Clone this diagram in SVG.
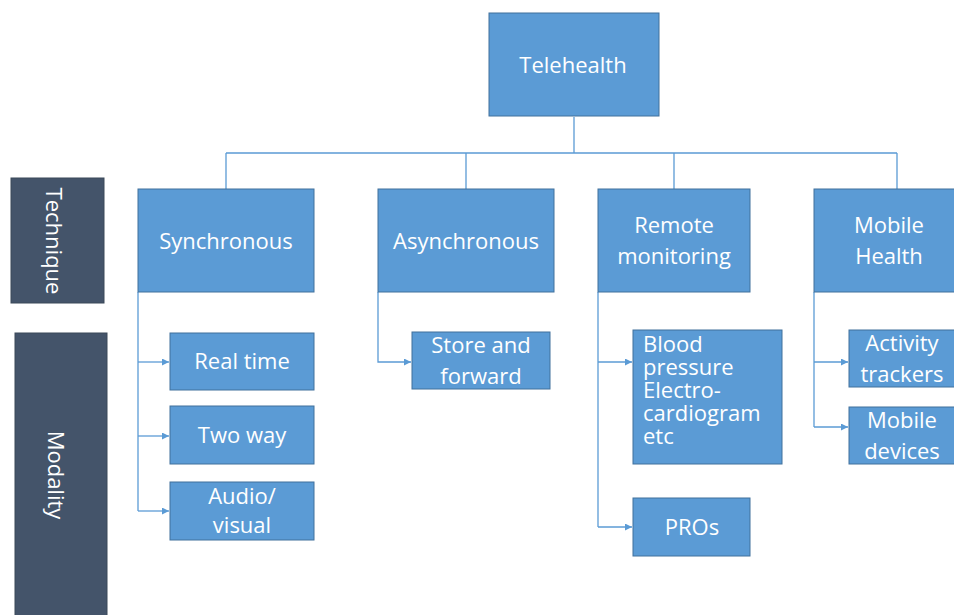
<svg xmlns="http://www.w3.org/2000/svg" width="954" height="615" viewBox="0 0 954 615">
<defs>
<marker id="ah" viewBox="0 0 10 10" refX="10" refY="5" markerWidth="7" markerHeight="7" markerUnits="userSpaceOnUse" orient="auto">
<path d="M0,0 L10,5 L0,10 z" fill="#5B9BD5"/>
</marker>
<style>
.box{fill:#5B9BD5;stroke:#41719C;stroke-width:1}
.dark{fill:#44546A;stroke:#3A4859;stroke-width:1}
.t{font-family:"Open Sans","Noto Sans",sans-serif;font-size:22px;fill:#FFFFFF;text-anchor:middle}
.tl{font-family:"Open Sans","Noto Sans",sans-serif;font-size:22px;fill:#FFFFFF;text-anchor:start}
.c{fill:none;stroke:#5B9BD5;stroke-width:1.3}
</style>
</defs>
<rect width="954" height="615" fill="#FFFFFF"/>
<g id="connectors">
<path class="c" d="M574,117 V153 M226,153 H897 M226,153 V189 M466,153 V189 M674,153 V189 M897,153 V189"/>
<path class="c" d="M138,292 V511"/>
<path class="c" d="M138,362 H169" marker-end="url(#ah)"/>
<path class="c" d="M138,436 H169" marker-end="url(#ah)"/>
<path class="c" d="M138,511 H169" marker-end="url(#ah)"/>
<path class="c" d="M378,292 V362 H411" marker-end="url(#ah)"/>
<path class="c" d="M598,292 V527"/>
<path class="c" d="M598,362 H632" marker-end="url(#ah)"/>
<path class="c" d="M598,527 H632" marker-end="url(#ah)"/>
<path class="c" d="M814,292 V427"/>
<path class="c" d="M814,362 H848" marker-end="url(#ah)"/>
<path class="c" d="M814,427 H848" marker-end="url(#ah)"/>
</g>
<g id="telehealth"><rect class="box" x="489" y="13" width="170" height="103"/><text class="t" x="573" y="73">Telehealth</text></g>
<g id="technique"><rect class="dark" x="11" y="178" width="93" height="125"/><text class="t" transform="translate(46,241) rotate(90)">Technique</text></g>
<g id="modality"><rect class="dark" x="15" y="333" width="92" height="290"/><text class="t" transform="translate(48,475) rotate(90)">Modality</text></g>
<g id="synchronous"><rect class="box" x="138" y="189" width="176" height="103"/><text class="t" x="226" y="249">Synchronous</text></g>
<g id="asynchronous"><rect class="box" x="378" y="189" width="176" height="103"/><text class="t" x="466" y="249">Asynchronous</text></g>
<g id="remote"><rect class="box" x="598" y="189" width="152" height="103"/><text class="t" x="674" y="233">Remote</text><text class="t" x="674" y="264">monitoring</text></g>
<g id="mobilehealth"><rect class="box" x="814" y="189" width="145" height="103"/><text class="t" x="889" y="233">Mobile</text><text class="t" x="889" y="264">Health</text></g>
<g id="realtime"><rect class="box" x="170" y="333" width="144" height="57"/><text class="t" x="242" y="369">Real time</text></g>
<g id="twoway"><rect class="box" x="170" y="406" width="144" height="58"/><text class="t" x="242" y="443">Two way</text></g>
<g id="audiovisual"><rect class="box" x="170" y="482" width="144" height="58"/><text class="t" x="242" y="504">Audio/</text><text class="t" x="242" y="533">visual</text></g>
<g id="storeforward"><rect class="box" x="412" y="332" width="138" height="57"/><text class="t" x="481" y="353">Store and</text><text class="t" x="481" y="384">forward</text></g>
<g id="bloodpressure"><rect class="box" x="633" y="330" width="149" height="134"/><text class="tl" x="643" y="352">Blood</text><text class="tl" x="643" y="375">pressure</text><text class="tl" x="643" y="398">Electro-</text><text class="tl" x="643" y="421">cardiogram</text><text class="tl" x="643" y="444">etc</text></g>
<g id="pros"><rect class="box" x="633" y="498" width="117" height="58"/><text class="t" x="692" y="535">PROs</text></g>
<g id="activity"><rect class="box" x="849" y="330" width="110" height="57"/><text class="t" x="902" y="351">Activity</text><text class="t" x="902" y="382">trackers</text></g>
<g id="mobiledevices"><rect class="box" x="849" y="407" width="110" height="57"/><text class="t" x="902" y="428">Mobile</text><text class="t" x="902" y="459">devices</text></g>
</svg>
